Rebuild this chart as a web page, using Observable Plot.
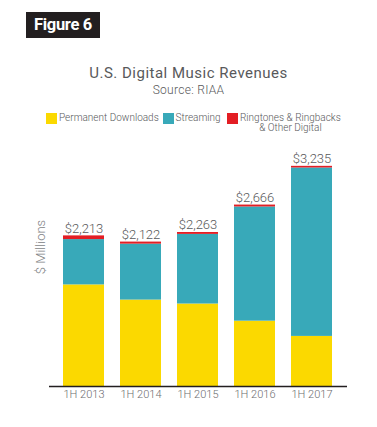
<!DOCTYPE html>
<html>
<head>
<meta charset="utf-8">
<script src="https://cdn.jsdelivr.net/npm/d3@7"></script>
<script src="https://cdn.jsdelivr.net/npm/@observablehq/plot@0.6"></script>
<style>
  html, body { margin: 0; padding: 0; background: #fff; }
  body { width: 377px; height: 427px; position: relative; overflow: hidden; font-family: Roboto, "Noto Sans", sans-serif; }
  .fig { position: absolute; left: 26px; top: 12px; width: 74px; height: 26px; background: #231f20; color: #fff;
         font-weight: bold; font-size: 16.5px; line-height: 26px; text-align: center; letter-spacing: -0.3px; }
  .title { position: absolute; left: 0; width: 377px; top: 64px; text-align: center; font-size: 15px; letter-spacing: 0.5px; color: #58595b; line-height: 18px; }
  .sub { position: absolute; left: 0; width: 377px; top: 83px; text-align: center; font-size: 12px; letter-spacing: 0.3px; color: #58595b; line-height: 14px; font-weight: 300; }
  .sw { position: absolute; width: 10.5px; height: 10.5px; top: 113px; }
  .lt { position: absolute; font-size: 10px; color: #58595b; line-height: 10px; white-space: nowrap; font-weight: 300; }
  .ylab { position: absolute; left: 40px; top: 247px; transform: translate(-50%, -50%) rotate(-90deg); font-size: 13px; color: #808285; white-space: nowrap; font-weight: 300; }
  #chart { position: absolute; left: 0; top: 141px; }
  #chart text { font-weight: 300; }
</style>
</head>
<body>
<div class="fig">Figure 6</div>
<div class="title">U.S. Digital Music Revenues</div>
<div class="sub">Source: RIAA</div>
<div id="legend"></div>
<div class="ylab">$ Millions</div>
<div id="chart"></div>
<script>
const periods = ["1H 2013", "1H 2014", "1H 2015", "1H 2016", "1H 2017"];
const seriesNames = ["Permanent Downloads", "Streaming", "Ringtones & Ringbacks & Other Digital"];
const legendLabels = ["Permanent Downloads", "Streaming", "Ringtones & Ringbacks\n& Other Digital"];
const seriesColors = ["#fbd900", "#38a9b9", "#e31e24"];
const downloads = [1493, 1270, 1212, 960, 736];
const streaming = [666, 822, 1023, 1678, 2475];
const otherDigital = [54, 30, 28, 28, 24];
const totals = [2213, 2122, 2263, 2666, 3235];

// legend
const legendPos = [{sx: 46, tx: 59}, {sx: 163, tx: 175.5}, {sx: 227, tx: 240}];
const legend = document.getElementById("legend");
legendLabels.forEach((lab, i) => {
  const sw = document.createElement("div");
  sw.className = "sw";
  sw.style.left = legendPos[i].sx + "px";
  sw.style.background = seriesColors[i];
  legend.appendChild(sw);
  const t = document.createElement("div");
  t.className = "lt";
  t.style.left = legendPos[i].tx + "px";
  t.style.top = "113px";
  t.style.textAlign = "center";
  t.innerHTML = lab.split("\n").join("<br>");
  legend.appendChild(t);
});

const series = [downloads, streaming, otherDigital];
const table = [];
periods.forEach((p, i) => {
  series.forEach((s, j) => table.push({period: p, type: seriesNames[j], value: s[i]}));
});
const totalTable = periods.map((p, i) => ({period: p, total: totals[i]}));

const chart = Plot.plot({
  width: 377,
  height: 270,
  marginLeft: 49,
  marginRight: 30,
  marginTop: 0,
  marginBottom: 25,
  style: {fontFamily: "Roboto, sans-serif", fontSize: "11px", color: "#6d6e71", background: "transparent"},
  x: {domain: periods, paddingInner: 0.28, paddingOuter: 0.21, tickSize: 0, tickPadding: 4, label: null},
  y: {domain: [0, 3600], axis: null},
  color: {domain: seriesNames, range: seriesColors},
  marks: [
    Plot.barY(table, {x: "period", y: "value", fill: "type"}),
    Plot.ruleY([0], {stroke: "#231f20", strokeWidth: 1.5}),
    Plot.text(totalTable, {x: "period", y: "total", text: d => "$" + d3.format(",")(d.total), dy: -3, lineAnchor: "bottom", fontSize: 13, fill: "#58595b"})
  ]
});
document.getElementById("chart").appendChild(chart);
</script>
</body>
</html>
